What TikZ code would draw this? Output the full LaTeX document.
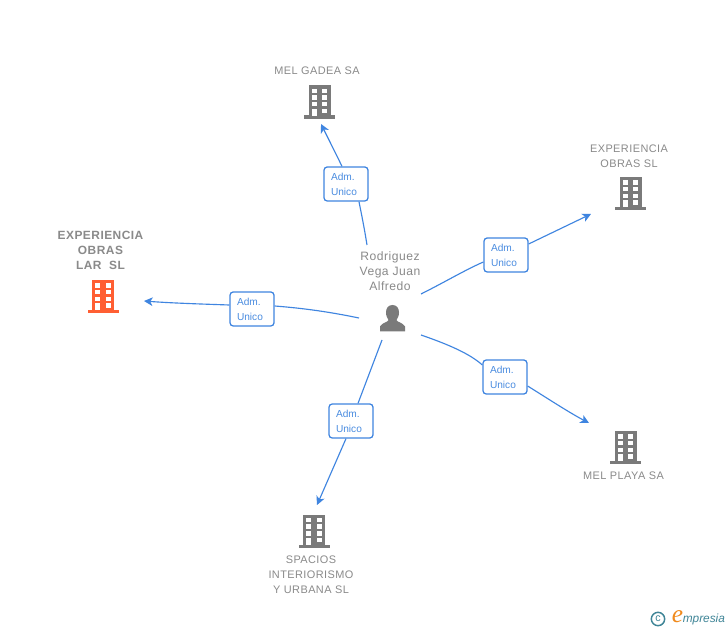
\documentclass[tikz,border=0pt]{standalone}
\usepackage{fontspec}
\setmainfont{Liberation Sans}
\newfontfamily\lblfont[LetterSpace=4]{Liberation Sans}
\newfontfamily\logofont{Liberation Serif}
\usetikzlibrary{arrows.meta}
\definecolor{grayico}{HTML}{7A7A7A}
\definecolor{grayt}{HTML}{8A8A8A}
\definecolor{orangeico}{HTML}{FF5F33}
\definecolor{bluec}{HTML}{3F85E0}
\definecolor{bluet}{HTML}{4A8CE0}
\definecolor{logot}{HTML}{3F8597}
\definecolor{logoe}{HTML}{F08A1D}
\tikzset{
  x=0.75pt,y=-0.75pt,
  link/.style={draw=bluec,line width=0.85pt},
  linkend/.style={link,-{Stealth[length=6.5pt,width=6.5pt,inset=1.8pt]}},
  admbox/.style={draw=bluec,fill=white,line width=0.95pt,rounded corners=2.4pt,text width=22.5pt,minimum height=25.5pt,inner xsep=5.25pt,inner ysep=0pt,align=left,text=bluet,font=\fontsize{7.6}{11.2}\selectfont},
  lbl/.style={text=grayt,align=center,inner sep=0pt,font=\lblfont\fontsize{8.2}{11.3}\selectfont},
  lblb/.style={text=grayt,align=center,inner sep=0pt,font=\lblfont\bfseries\fontsize{8.95}{11.3}\selectfont},
  lblp/.style={text=grayt,align=center,inner sep=0pt,font=\lblfont\fontsize{9.1}{11.3}\selectfont},
  pics/bldg/.style={code={
    \fill[#1] (-11,-33) rectangle (11,-1);
    \fill[#1] (-15.5,-3) rectangle (15.5,0.5);
    \foreach \cy in {-29.8,-23.1,-16.4}{
      \fill[white] (-7.7,\cy) rectangle (-2.9,{\cy+4.4});
      \fill[white] (2.9,\cy) rectangle (7.7,{\cy+4.4});
    }
    \fill[white] (-7.7,-9.5) rectangle (-2.9,-2.5);
    \fill[white] (2.9,-9.5) rectangle (7.7,-5.2);
  }}
}
\newcommand{\admtext}{Adm.\\Unico}
\begin{document}
\begin{tikzpicture}
\useasboundingbox (0,0) rectangle (728,630);
\fill[white] (0,0) rectangle (728,630);

% buildings
\pic at (319.5,118.5) {bldg=grayico};
\pic at (630.5,210) {bldg=grayico};
\pic at (103,313) {bldg=orangeico};
\pic at (625.5,464) {bldg=grayico};
\pic at (314,547.5) {bldg=grayico};

% labels
\node[lbl] (tgadea) at (317,71) {MEL GADEA SA};
\node[lbl] (tobras) at (629,156) {EXPERIENCIA\\OBRAS SL};
\node[lblb] (tlar) at (100.5,250) {EXPERIENCIA\\OBRAS\\LAR\ \ SL};
\node[lbl] (tplaya) at (623.5,476) {MEL PLAYA SA};
\node[lbl] (tspacios) at (311,575) {SPACIOS\\INTERIORISMO\\Y URBANA SL};
\node[lblp] (tperson) at (390,271) {Rodriguez\\Vega Juan\\Alfredo};

% person icon
\fill[grayico] (392.5,305) .. controls (388,305) and (386,308.5) .. (386,312.5) .. controls (386,316) and (387.5,318.5) .. (388.5,320) .. controls (388.5,322) and (382,322.5) .. (380,326.5) -- (380,331.5) -- (405,331.5) -- (405,326.5) .. controls (403,322.5) and (396.5,322) .. (396.5,320) .. controls (397.5,318.5) and (399,316) .. (399,312.5) .. controls (399,308.5) and (397,305) .. (392.5,305) -- cycle;

% connector ends
\coordinate (sgadea) at (367,245);
\coordinate (egadea) at (321,124);
\coordinate (sobras) at (421,294);
\coordinate (eobras) at (591,214);
\coordinate (splaya) at (421,335);
\coordinate (eplaya) at (589,423);
\coordinate (sspacios) at (382,340);
\coordinate (espacios) at (317,505);
\coordinate (slar) at (359,318);
\coordinate (elar) at (144,301);

% boxes
\node[admbox] (bgadea) at (346,184) {\admtext};
\node[admbox] (bobras) at (506,255) {\admtext};
\node[admbox] (bplaya) at (505,377) {\admtext};
\node[admbox] (bspacios) at (351,421) {\admtext};
\node[admbox] (blar) at (252,309) {\admtext};

% connectors
\draw[link] (sgadea) .. controls (364,226) and (361,212) .. ([xshift=9.75pt]bgadea.south);
\draw[linkend] ([xshift=-3pt]bgadea.north) .. controls (335,152) and (328,138) .. (egadea);
\draw[link] (sobras) .. controls (445,282) and (465,270) .. ([yshift=-5.25pt]bobras.west);
\draw[linkend] ([yshift=8.25pt]bobras.east) -- (eobras);
\draw[link] (splaya) .. controls (450,345) and (470,354) .. ([yshift=9pt]bplaya.west);
\draw[linkend] ([yshift=-6.75pt]bplaya.east) .. controls (550,400) and (570,413) .. (eplaya);
\draw[link] (sspacios) -- ([xshift=5.25pt]bspacios.north);
\draw[linkend] ([xshift=-3.75pt]bspacios.south) -- (espacios);
\draw[link] (slar) .. controls (325,311) and (300,308) .. ([yshift=2.25pt]blar.east);
\draw[linkend] ([yshift=3pt]blar.west) .. controls (200,304) and (170,303) .. (elar);

% logo
\node[circle,draw=logot,line width=1.1pt,minimum size=10pt,inner sep=0pt,text=logot,font=\fontsize{8}{8}\selectfont] (copy) at (658,619) {c};
\node[inner sep=0pt,text=logoe,font=\logofont\itshape\fontsize{19}{19}\selectfont] (loge) at (677.5,617) {e};
\node[inner sep=0pt,anchor=west,text=logot,font=\itshape\fontsize{8.9}{10}\selectfont] (logm) at (682.5,619) {mpresia};
\end{tikzpicture}
\end{document}
